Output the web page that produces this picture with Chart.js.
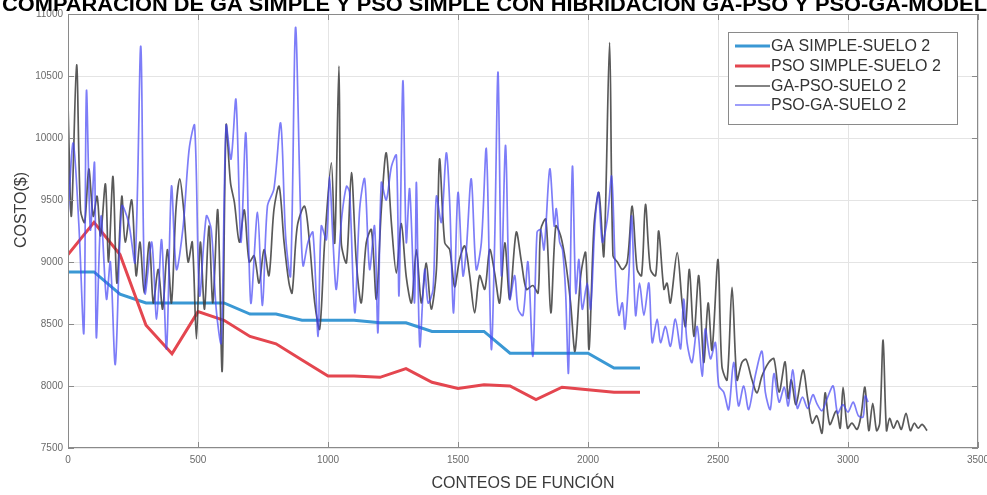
<!DOCTYPE html>
<html>
<head>
<meta charset="utf-8">
<script src="https://cdn.jsdelivr.net/npm/chart.js@4.4.1/dist/chart.umd.min.js"></script>
<style>
  html, body { margin: 0; padding: 0; background: #fff; }
  #wrap { width: 987px; height: 495px; position: relative; }
</style>
</head>
<body>
<div id="wrap"><canvas id="c" width="987" height="495"></canvas></div>
<script>
// ---- data ----
const titleText = 'COMPARACIÓN DE GA SIMPLE Y PSO SIMPLE CON HIBRIDACIÓN GA-PSO Y PSO-GA-MODELO';
const xTitle = 'CONTEOS DE FUNCIÓN';
const yTitle = 'COSTO($)';
const xTickValues = [0, 500, 1000, 1500, 2000, 2500, 3000, 3500];
const yTickValues = [7500, 8000, 8500, 9000, 9500, 10000, 10500, 11000];
const seriesNames = ['GA SIMPLE-SUELO 2', 'PSO SIMPLE-SUELO 2', 'GA-PSO-SUELO 2', 'PSO-GA-SUELO 2'];

const gaSimpleCounts = [0, 100, 200, 300, 400, 500, 600, 700, 800, 900, 1000, 1100, 1200, 1300, 1400, 1500, 1600, 1700, 1800, 1900, 2000, 2100, 2200];
const gaSimpleCost   = [8920, 8920, 8740, 8670, 8670, 8670, 8670, 8580, 8580, 8530, 8530, 8530, 8510, 8510, 8440, 8440, 8440, 8265, 8265, 8265, 8265, 8145, 8145];

const psoSimpleCounts = [0, 100, 200, 300, 400, 500, 600, 700, 800, 900, 1000, 1100, 1200, 1300, 1400, 1500, 1600, 1700, 1800, 1900, 2000, 2100, 2200];
const psoSimpleCost   = [9060, 9320, 9060, 8490, 8260, 8600, 8530, 8400, 8340, 8210, 8080, 8080, 8070, 8140, 8030, 7980, 8010, 8000, 7890, 7990, 7970, 7950, 7950];

const gaPsoCounts = [
  0, 13, 33, 48, 64, 80, 97, 112, 125, 144, 156, 173, 188, 207, 220, 245, 262, 277, 293, 313,
  328, 347, 364, 382, 398, 415, 430, 445, 462, 478, 494, 509, 525, 542, 557, 576, 593, 608, 625, 640,
  659, 678, 697, 716, 735, 754, 773, 792, 812, 831, 850, 862, 882, 910, 929, 949, 968, 987, 1013, 1026,
  1042, 1051, 1071, 1090, 1109, 1128, 1147, 1167, 1186, 1205, 1224, 1244, 1263, 1282, 1301, 1321, 1340, 1359, 1378, 1397,
  1417, 1429, 1449, 1468, 1487, 1506, 1526, 1545, 1564, 1583, 1603, 1622, 1641, 1660, 1680, 1699, 1724, 1744, 1763, 1788,
  1808, 1818, 1838, 1857, 1876, 1895, 1914, 1933, 1950, 1972, 1991, 2004, 2023, 2042, 2061, 2083, 2096, 2113, 2132, 2151,
  2170, 2189, 2206, 2221, 2240, 2260, 2272, 2292, 2304, 2317, 2343, 2362, 2375, 2390, 2407, 2426, 2445, 2462, 2477, 2500,
  2515, 2535, 2554, 2573, 2592, 2608, 2630, 2650, 2669, 2695, 2715, 2735, 2758, 2770, 2782, 2800, 2827, 2845, 2862, 2880,
  2900, 2912, 2930, 2955, 2970, 2981, 2998, 3015, 3035, 3050, 3065, 3080, 3095, 3110, 3122, 3135, 3148, 3160, 3175, 3190,
  3205, 3223, 3240, 3255, 3270, 3285, 3304
];
const gaPsoCost = [
  10270, 9370, 10590, 9420, 9320, 9750, 9370, 9530, 9210, 9630, 9000, 9690, 8830, 9530, 9160, 9500, 8890, 9160, 8750, 9160,
  8670, 8940, 8620, 9100, 8670, 9420, 9670, 9420, 9000, 9160, 8380, 9160, 8620, 9290, 8670, 9420, 8120, 10100, 9640, 9480,
  9160, 9420, 9000, 9050, 8830, 9100, 8890, 9420, 9610, 9160, 8830, 8750, 9290, 9450, 9155, 8670, 8460, 9155, 9800, 9155,
  10580, 9155, 8995, 9720, 9000, 8670, 9155, 9260, 8700, 9420, 9880, 9310, 8910, 9310, 8880, 8670, 9100, 8670, 8990, 8620,
  8940, 9830, 9155, 9100, 8800, 9020, 9130, 8890, 8590, 8890, 8780, 9100, 8910, 8670, 9155, 8700, 9240, 9000, 8780, 8810,
  8750, 9260, 9345, 8590, 9290, 9210, 9000, 8670, 8280, 8890, 9075, 8295, 9290, 9560, 9050, 10770, 9050, 9000, 8940, 9000,
  9450, 8940, 8890, 9465, 8940, 8890, 9250, 8780, 8830, 8670, 9075, 8670, 8480, 8940, 8400, 8890, 8190, 8670, 8290, 9020,
  8160, 8050, 8795, 8050, 8190, 8215, 8055, 7945, 8080, 8190, 8220, 7950, 8195, 7900, 8050, 7850, 8130, 7900, 7700, 7760,
  7620, 7945, 7690, 7800, 7660, 7990, 7660, 7700, 7650, 7760, 7990, 7640, 7860, 7640, 7700, 8370, 7640, 7740, 7660, 7720,
  7650, 7780, 7640, 7700, 7660, 7690, 7640
];

const psoGaCounts = [
  0, 20, 42, 61, 71, 86, 102, 109, 127, 148, 163, 182, 207, 233, 258, 280, 296, 322, 341, 360,
  379, 398, 417, 443, 466, 487, 506, 532, 551, 570, 589, 608, 627, 646, 665, 684, 703, 729, 748, 767,
  792, 818, 837, 856, 875, 894, 904, 923, 942, 962, 974, 994, 1006, 1019, 1032, 1051, 1071, 1083, 1103, 1122,
  1141, 1160, 1179, 1192, 1205, 1224, 1244, 1263, 1273, 1288, 1301, 1314, 1333, 1340, 1353, 1372, 1385, 1404, 1417, 1436,
  1455, 1468, 1483, 1500, 1519, 1532, 1551, 1570, 1590, 1609, 1628, 1641, 1654, 1667, 1683, 1699, 1718, 1731, 1750, 1769,
  1788, 1804, 1818, 1831, 1853, 1870, 1878, 1891, 1902, 1914, 1925, 1940, 1953, 1965, 1978, 1997, 2010, 2027, 2040, 2055,
  2074, 2091, 2106, 2119, 2132, 2142, 2157, 2168, 2183, 2198, 2215, 2234, 2247, 2266, 2279, 2298, 2317, 2336, 2356, 2368,
  2381, 2400, 2420, 2439, 2451, 2471, 2490, 2503, 2522, 2541, 2560, 2579, 2599, 2618, 2643, 2669, 2682, 2701, 2715, 2735,
  2755, 2770, 2788, 2805, 2825, 2845, 2865, 2880, 2900, 2920, 2943, 2960, 2980, 3000, 3020, 3040, 3058, 3066, 3077
];
const psoGaCost = [
  9370, 9960, 9290, 8430, 10380, 9260, 9800, 8390, 9370, 8700, 9000, 8175, 9450, 9320, 9000, 10740, 8750, 9160, 8540, 9180,
  8300, 9610, 8940, 9290, 9910, 10100, 8730, 9370, 9260, 8620, 8350, 10100, 9830, 10310, 9160, 10040, 8670, 9400, 8650, 9450,
  9590, 10120, 9210, 8890, 10890, 9430, 8970, 9160, 9240, 8400, 9290, 9180, 9690, 9180, 8780, 9320, 9610, 9560, 8590, 9430,
  9670, 8940, 9290, 8430, 9640, 9500, 9770, 9860, 8730, 10460, 9160, 9590, 8670, 9640, 8320, 8940, 8670, 8780, 9530, 9320,
  9880, 9480, 8590, 9560, 8890, 9100, 9670, 8940, 9160, 9910, 8300, 9160, 10530, 8890, 9940, 8700, 8890, 8620, 8570, 9000,
  8240, 9240, 9260, 9100, 9750, 9290, 9430, 9160, 9100, 8750, 8110, 9770, 8750, 9020, 8620, 8830, 8620, 9320, 9560, 9160,
  9340, 9690, 8890, 8570, 8670, 8460, 8890, 9370, 8570, 8830, 8570, 8830, 8350, 8540, 8350, 8480, 8320, 8540, 8300, 8700,
  8350, 8190, 8480, 8080, 8460, 8220, 8350, 8000, 7950, 7810, 8190, 7840, 8000, 7810, 8080, 8280, 7950, 7810, 8100, 7870,
  7990, 7840, 8130, 7820, 7910, 7820, 7930, 7860, 7800, 7900, 8000, 7780, 7850, 7790, 7870, 7760, 7750, 7920, 7870
];

// ---- helpers ----
const toPoints = (xs, ys) => xs.map((x, i) => ({ x, y: ys[i] }));
const FONT = '"Liberation Sans", Arial, Helvetica, sans-serif';

const seriesStyle = [
  { color: '#3a98d4', width: 3 },
  { color: '#e4464f', width: 3 },
  { color: 'rgba(60,60,60,0.85)', width: 1.7 },
  { color: 'rgba(70,70,245,0.7)', width: 1.7 }
];

function textScaled(ctx, str, x, y, sx, align) {
  ctx.save();
  ctx.translate(x, y);
  ctx.scale(sx, 1);
  ctx.textAlign = align || 'left';
  ctx.fillText(str, 0, 0);
  ctx.restore();
}

// axes box, inward ticks, labels, title and legend
const decorations = {
  id: 'decorations',
  afterDraw(chart) {
    const { ctx, chartArea: a, scales: { x, y } } = chart;
    ctx.save();

    // axes box
    ctx.strokeStyle = '#8a8a8a';
    ctx.lineWidth = 1;
    ctx.strokeRect(Math.round(a.left) + 0.5, Math.round(a.top) + 0.5,
                   Math.round(a.right - a.left) - 1, Math.round(a.bottom - a.top) - 1);

    // inward tick marks on all four sides
    ctx.beginPath();
    for (const v of xTickValues) {
      const px = Math.round(x.getPixelForValue(v)) + 0.5;
      ctx.moveTo(px, a.bottom); ctx.lineTo(px, a.bottom - 6);
      ctx.moveTo(px, a.top); ctx.lineTo(px, a.top + 6);
    }
    for (const v of yTickValues) {
      const py = Math.round(y.getPixelForValue(v)) + 0.5;
      ctx.moveTo(a.left, py); ctx.lineTo(a.left + 6, py);
      ctx.moveTo(a.right, py); ctx.lineTo(a.right - 6, py);
    }
    ctx.stroke();

    // tick labels
    ctx.fillStyle = '#6a6a6a';
    ctx.font = '10px ' + FONT;
    ctx.textBaseline = 'middle';
    for (const v of xTickValues) {
      textScaled(ctx, String(v), x.getPixelForValue(v), a.bottom + 12, 1, 'center');
    }
    for (const v of yTickValues) {
      textScaled(ctx, String(v), a.left - 5, y.getPixelForValue(v), 1, 'right');
    }

    // axis titles
    ctx.fillStyle = '#3a3a3a';
    ctx.font = '16px ' + FONT;
    textScaled(ctx, xTitle, (a.left + a.right) / 2, 484, 1, 'center');
    ctx.save();
    ctx.translate(22, 210);
    ctx.rotate(-Math.PI / 2);
    ctx.textAlign = 'center';
    ctx.fillText(yTitle, 0, 0);
    ctx.restore();

    // title (runs off the top edge)
    ctx.fillStyle = '#000';
    ctx.font = 'bold 20px ' + FONT;
    ctx.textBaseline = 'alphabetic';
    const shown = titleText.slice(0, titleText.length - 1);
    const sx = 985 / ctx.measureText(shown).width;
    textScaled(ctx, titleText, 2, 11, sx, 'left');

    // legend
    const lx = 728, ly = 32, lw = 230, lh = 93;
    ctx.fillStyle = '#fff';
    ctx.fillRect(lx, ly, lw, lh);
    ctx.strokeStyle = '#8a8a8a';
    ctx.lineWidth = 1;
    ctx.strokeRect(lx + 0.5, ly + 0.5, lw - 1, lh - 1);
    const rows = [46, 66, 86, 105];
    ctx.font = '16px ' + FONT;
    ctx.textBaseline = 'middle';
    chart.data.datasets.forEach((ds, i) => {
      ctx.strokeStyle = ds.borderColor;
      ctx.lineWidth = ds.borderWidth;
      ctx.beginPath();
      ctx.moveTo(735, rows[i]); ctx.lineTo(770, rows[i]);
      ctx.stroke();
      ctx.fillStyle = '#333';
      textScaled(ctx, ds.label, 771, rows[i] + 1, 1, 'left');
    });

    ctx.restore();
  }
};

const datasets = [
  [gaSimpleCounts, gaSimpleCost, 4],
  [psoSimpleCounts, psoSimpleCost, 3],
  [gaPsoCounts, gaPsoCost, 2],
  [psoGaCounts, psoGaCost, 1]
].map(([xs, ys, order], i) => ({
  label: seriesNames[i],
  data: toPoints(xs, ys),
  borderColor: seriesStyle[i].color,
  borderWidth: seriesStyle[i].width,
  pointRadius: 0,
  tension: i < 2 ? 0 : 0.3,
  fill: false,
  order
}));

new Chart(document.getElementById('c'), {
  type: 'line',
  data: { datasets },
  options: {
    responsive: false,
    animation: false,
    devicePixelRatio: 1,
    layout: { padding: { left: 68, top: 14, right: 9, bottom: 47 } },
    plugins: { legend: { display: false }, tooltip: { enabled: false }, title: { display: false } },
    scales: {
      x: {
        type: 'linear', min: 0, max: 3500,
        ticks: { display: false, stepSize: 500 },
        grid: { color: '#e4e4e4', drawTicks: false },
        border: { display: false }
      },
      y: {
        min: 7500, max: 11000,
        ticks: { display: false, stepSize: 500 },
        grid: { color: '#e4e4e4', drawTicks: false },
        border: { display: false }
      }
    }
  },
  plugins: [decorations]
});
</script>
</body>
</html>
